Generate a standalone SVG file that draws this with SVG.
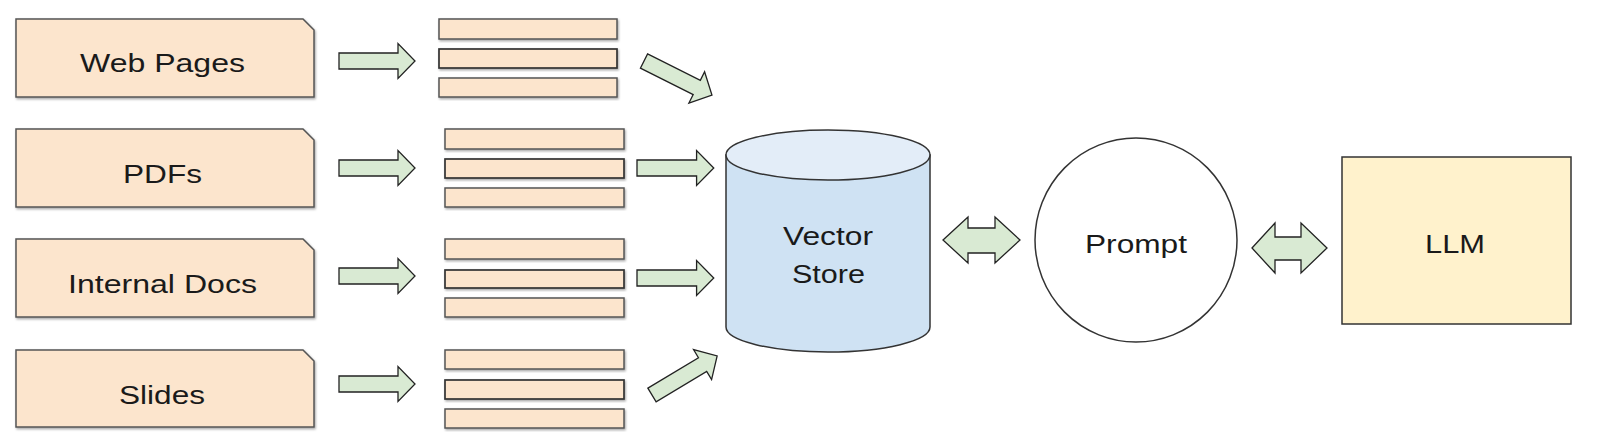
<svg xmlns="http://www.w3.org/2000/svg" width="1600" height="441" viewBox="0 0 1600 441">
<defs>
<filter id="sh" x="-5%" y="-10%" width="115%" height="130%">
<feDropShadow dx="1" dy="1.5" stdDeviation="0.8" flood-color="#000" flood-opacity="0.35"/>
</filter>
<path id="arr" d="M0,-8 H59 V-17.5 L76,0 L59,17.5 V8 H0 Z"/>
</defs>
<style>
.src{fill:#fce5cd;stroke:#555;stroke-width:1.5;filter:url(#sh)}
.bar{fill:#fce5cd;stroke:#555;stroke-width:1.5;filter:url(#sh)}
.bar.mid{stroke:#333;stroke-width:1.7}
.ar{fill:#d9ead3;stroke:#222;stroke-width:1.3;stroke-linejoin:miter}
.t{font-family:"Liberation Sans",Arial,sans-serif;font-size:26px;fill:#1a1a1a;text-anchor:middle}
</style>
<rect width="1600" height="441" fill="#fff"/>

<g id="src-web"><path class="src" d="M16,19 H303 L314,30 V97 H16 Z"/><text class="t" x="162.5" y="72" textLength="165" lengthAdjust="spacingAndGlyphs">Web Pages</text></g>
<g id="src-pdf"><path class="src" d="M16,129 H303 L314,140 V207 H16 Z"/><text class="t" x="162.5" y="183" textLength="79" lengthAdjust="spacingAndGlyphs">PDFs</text></g>
<g id="src-docs"><path class="src" d="M16,239 H303 L314,250 V317 H16 Z"/><text class="t" x="162.5" y="293" textLength="189" lengthAdjust="spacingAndGlyphs">Internal Docs</text></g>
<g id="src-slides"><path class="src" d="M16,350 H303 L314,361 V427 H16 Z"/><text class="t" x="162" y="404" textLength="86" lengthAdjust="spacingAndGlyphs">Slides</text></g>

<g id="chunks-web">
<rect class="bar" x="439" y="19" width="178" height="20"/>
<rect class="bar mid" x="439" y="49" width="178" height="19"/>
<rect class="bar" x="439" y="78" width="178" height="19"/>
</g>
<g id="chunks-pdf">
<rect class="bar" x="445" y="129" width="179" height="20"/>
<rect class="bar mid" x="445" y="159" width="179" height="19"/>
<rect class="bar" x="445" y="188" width="179" height="19"/>
</g>
<g id="chunks-docs">
<rect class="bar" x="445" y="239" width="179" height="20"/>
<rect class="bar mid" x="445" y="270" width="179" height="18"/>
<rect class="bar" x="445" y="298" width="179" height="19"/>
</g>
<g id="chunks-slides">
<rect class="bar" x="445" y="350" width="179" height="19"/>
<rect class="bar mid" x="445" y="380" width="179" height="19"/>
<rect class="bar" x="445" y="409" width="179" height="19"/>
</g>

<g id="vector-store">
<path d="M726,155 V327 A102,25 0 0 0 930,327 V155 Z" fill="#cfe2f3" stroke="#333" stroke-width="1.5"/>
<ellipse cx="828" cy="155" rx="102" ry="25" fill="#e3edf8" stroke="#333" stroke-width="1.5"/>
<text class="t" x="828" y="245" textLength="90" lengthAdjust="spacingAndGlyphs">Vector</text>
<text class="t" x="828.5" y="283" textLength="73" lengthAdjust="spacingAndGlyphs">Store</text>
</g>

<g id="prompt">
<ellipse cx="1136" cy="240" rx="101" ry="102" fill="#fff" stroke="#333" stroke-width="1.5"/>
<text class="t" x="1136" y="253" textLength="102" lengthAdjust="spacingAndGlyphs">Prompt</text>
</g>

<g id="llm">
<rect x="1342" y="157" width="229" height="167" fill="#fff2cc" stroke="#333" stroke-width="1.5"/>
<text class="t" x="1455" y="253" textLength="60" lengthAdjust="spacingAndGlyphs">LLM</text>
</g>

<g id="connectors">
<use href="#arr" class="ar" transform="translate(339,61)"/>
<use href="#arr" class="ar" transform="translate(339,168)"/>
<use href="#arr" class="ar" transform="translate(339,276)"/>
<use href="#arr" class="ar" transform="translate(339,384)"/>
<use href="#arr" class="ar" transform="translate(644,61) rotate(26.6)"/>
<use href="#arr" class="ar" transform="translate(637,168) scale(1.01,1)"/>
<use href="#arr" class="ar" transform="translate(637,278) scale(1.01,1)"/>
<use href="#arr" class="ar" transform="translate(652,395) rotate(-31)"/>
<path class="ar" d="M943,240 L968,217 V228 H995 V217 L1020,240 L995,263 V253 H968 V263 Z"/>
<path class="ar" d="M1252,248 L1275,223 V237 H1301 V223 L1327,248 L1301,273 V260 H1275 V273 Z"/>
</g>
</svg>
